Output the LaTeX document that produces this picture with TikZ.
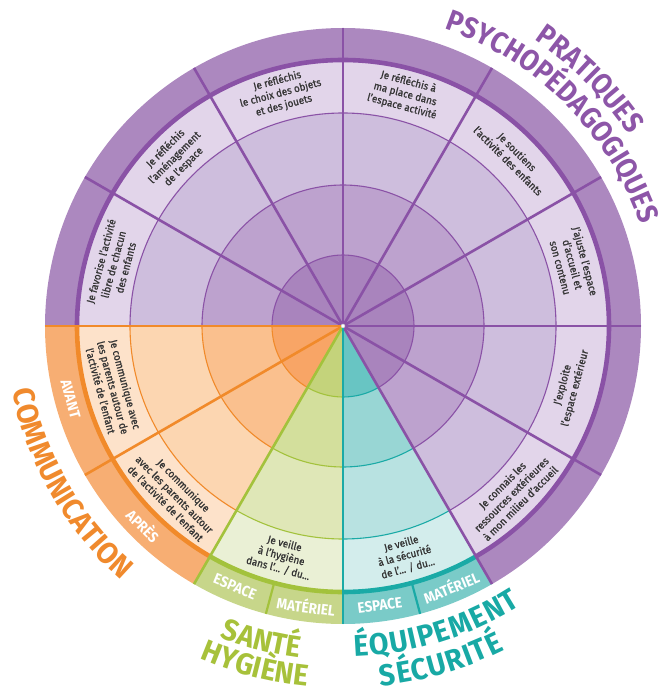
\documentclass[tikz,border=0pt]{standalone}
\usepackage{fontspec}
\setmainfont{Fira Sans}
\newfontfamily\condsans{Fira Sans}[FakeStretch=0.9]
\newfontfamily\widesans{Fira Sans}[FakeStretch=0.95]
\newfontfamily\narrowsans{Fira Sans}[FakeStretch=0.93, FakeBold=1]
\usetikzlibrary{decorations.text}

% purple family: pedagogical practices
\definecolor{P0}{HTML}{A984BD}
\definecolor{P1}{HTML}{BDA2CE}
\definecolor{P2}{HTML}{CEBEDD}
\definecolor{P3}{HTML}{E2D5EA}
\definecolor{P4}{HTML}{AC88BF}
\definecolor{P5}{HTML}{8A52A6}
\definecolor{P6}{HTML}{8D56A8}
% orange family: communication
\definecolor{O0}{HTML}{F8A566}
\definecolor{O1}{HTML}{FAC08E}
\definecolor{O2}{HTML}{FCD6B1}
\definecolor{O3}{HTML}{FDE2CA}
\definecolor{O4}{HTML}{F7AE73}
\definecolor{O5}{HTML}{F18A2A}
\definecolor{O6}{HTML}{F08A2D}
% green family: health and hygiene
\definecolor{G0}{HTML}{C4D37B}
\definecolor{G1}{HTML}{D3DF9C}
\definecolor{G2}{HTML}{DFE7B7}
\definecolor{G3}{HTML}{EAF0D5}
\definecolor{G4}{HTML}{C7D68A}
\definecolor{G5}{HTML}{A3C23C}
\definecolor{G6}{HTML}{A7C13A}
% teal family: equipment and safety
\definecolor{T0}{HTML}{68C5C3}
\definecolor{T1}{HTML}{98D6D4}
\definecolor{T2}{HTML}{B8E2E1}
\definecolor{T3}{HTML}{D3EDEC}
\definecolor{T4}{HTML}{7ACBC8}
\definecolor{T5}{HTML}{1AAAA6}
\definecolor{T6}{HTML}{18A9A5}
\definecolor{textgray}{HTML}{353535}

\newcommand{\topfont}{\condsans\bfseries\fontsize{29.5}{29.5}\selectfont}
\newcommand{\botfont}{\widesans\bfseries\fontsize{30}{30}\selectfont}

\begin{document}
\begin{tikzpicture}[x=1pt,y=1pt,
  lbl/.style={font=\narrowsans\fontsize{10.6}{12.8}\selectfont, text=textgray, align=center, inner sep=0pt},
  bandlbl/.style={font=\condsans\bfseries\fontsize{15}{15}\selectfont, text=white, inner sep=0pt},
  thinring/.style={line width=1.1pt},
  thickring/.style={line width=4.6pt},
  spoke/.style={line width=2.6pt}]
\useasboundingbox (-343,-367) rectangle (323,326);

% coloured rings of every 30-degree sector
\foreach \a/\f in {-60/P,-30/P,0/P,30/P,60/P,90/P,120/P,150/P,180/O,210/O,240/G,270/T} {
  \pgfmathsetmacro\b{\a+30}
  \fill[fill=\f0] (0,0) -- (\a:71pt) arc[start angle=\a,end angle=\b,radius=71pt] -- cycle;
  \fill[fill=\f1] (\a:71pt) arc[start angle=\a,end angle=\b,radius=71pt]
    -- (\b:141pt) arc[start angle=\b,end angle=\a,radius=141pt] -- cycle;
  \fill[fill=\f2] (\a:141pt) arc[start angle=\a,end angle=\b,radius=141pt]
    -- (\b:213pt) arc[start angle=\b,end angle=\a,radius=213pt] -- cycle;
  \fill[fill=\f3] (\a:213pt) arc[start angle=\a,end angle=\b,radius=213pt]
    -- (\b:266pt) arc[start angle=\b,end angle=\a,radius=266pt] -- cycle;
  \fill[fill=\f4] (\a:266pt) arc[start angle=\a,end angle=\b,radius=266pt]
    -- (\b:298pt) arc[start angle=\b,end angle=\a,radius=298pt] -- cycle;
}

% ring boundaries
\foreach \a/\f in {-60/P,-30/P,0/P,30/P,60/P,90/P,120/P,150/P,180/O,210/O,240/G,270/T} {
  \pgfmathsetmacro\b{\a+30}
  \draw[draw=\f5, thinring] (\a:71pt) arc[start angle=\a,end angle=\b,radius=71pt];
  \draw[draw=\f5, thinring] (\a:141pt) arc[start angle=\a,end angle=\b,radius=141pt];
  \draw[draw=\f5, thinring] (\a:213pt) arc[start angle=\a,end angle=\b,radius=213pt];
  \draw[draw=\f5, thickring] (\a:266pt) arc[start angle=\a,end angle=\b,radius=266pt];
}

% dividers of the ESPACE / MATERIEL bands
\draw[draw=G5, line width=2.2pt] (-105:266pt) -- (-105:298pt);
\draw[draw=T5, line width=2.2pt] (-75:266pt) -- (-75:298pt);

% spokes
\foreach \ang/\f in {0/P,30/P,60/P,90/P,120/P,150/P,300/P,330/P,180/O,210/O,240/G,270/T}
  \draw[draw=\f5, spoke] (0,0) -- (\ang:298pt);

% hub
\node[circle, fill=white, draw=gray!50, line width=0.4pt, inner sep=0pt, minimum size=4pt] (hub) at (0,0) {};

% statements in the light band
\foreach \m/\r/\t [count=\i] in {
  165/238/{Je favorise l’activité\\libre de chacun\\des enfants},
  135/238/{Je réfléchis\\l’aménagement\\de l’espace},
  105/241/{Je réfléchis\\le choix des objets\\et des jouets},
  75/240/{Je réfléchis à\\ma place dans\\l’espace activité},
  45/240/{Je soutiens\\l’activité des enfants},
  15/238/{J’ajuste l’espace\\d’accueil et\\son contenu},
  -15/234/{J’exploite\\l’espace extérieur},
  -45/238/{Je connais les\\ressources extérieures\\à mon milieu d’accueil},
  -75/238/{Je veille\\à la sécurité\\de l’... / du...},
  -105/238/{Je veille\\à l’hygiène\\dans l’... / du...},
  -135/238/{Je communique\\avec les parents autour\\de l’activité de l’enfant},
  -165/238/{Je communique avec\\les parents autour de\\l’activité de l’enfant}} {
  \pgfmathsetmacro\rot{\m>0 ? \m-90 : \m+90}
  \node[lbl, rotate=\rot] (stmt\i) at (\m:\r pt) {\t};
}

% labels in the outer band
\node[bandlbl, rotate=-75] (avant) at (-165:282pt) {AVANT};
\node[bandlbl, rotate=-45] (apres) at (-135:282pt) {APRÈS};
\node[bandlbl, rotate=-22.5] (espG) at (-112.5:282pt) {ESPACE};
\node[bandlbl, rotate=-7.5] (matG) at (-97.5:282pt) {MATÉRIEL};
\node[bandlbl, rotate=7.5] (espT) at (-82.5:282pt) {ESPACE};
\node[bandlbl, rotate=22.5] (matT) at (-67.5:282pt) {MATÉRIEL};

% category titles set along circles
\path[decorate, decoration={text along path, text align=center, text color=P6,
  text={|\topfont|PRATIQUES}}]
  (88:344pt) arc[start angle=88, end angle=2, radius=344pt];
\path[decorate, decoration={text along path, text align=center, text color=P6,
  text={|\topfont|PSYCHOPÉDAGOGIQUES}}]
  (90:314pt) arc[start angle=90, end angle=0, radius=314pt];
\path[decorate, decoration={text along path, text align=center, text color=O6,
  text={|\botfont|COMMUNICATION}}]
  (-195:337pt) arc[start angle=-195, end angle=-105, radius=337pt];
\path[decorate, decoration={text along path, text align=center, text color=G6,
  text={|\botfont|SANTÉ}}]
  (-134.5:335pt) arc[start angle=-134.5, end angle=-74.5, radius=335pt];
\path[decorate, decoration={text along path, text align=center, text color=G6,
  text={|\botfont|HYGIÈNE}}]
  (-134.5:362pt) arc[start angle=-134.5, end angle=-74.5, radius=362pt];
\path[decorate, decoration={text along path, text align={fit to path}, text color=T6,
  text={|\botfont|ÉQUIPEMENT}}]
  (-88:331pt) arc[start angle=-88, end angle=-57.5, radius=331pt];
\path[decorate, decoration={text along path, text align={fit to path}, text color=T6,
  text={|\botfont|SÉCURITÉ}}]
  (-84:362pt) arc[start angle=-84, end angle=-63.5, radius=362pt];
\end{tikzpicture}
\end{document}
